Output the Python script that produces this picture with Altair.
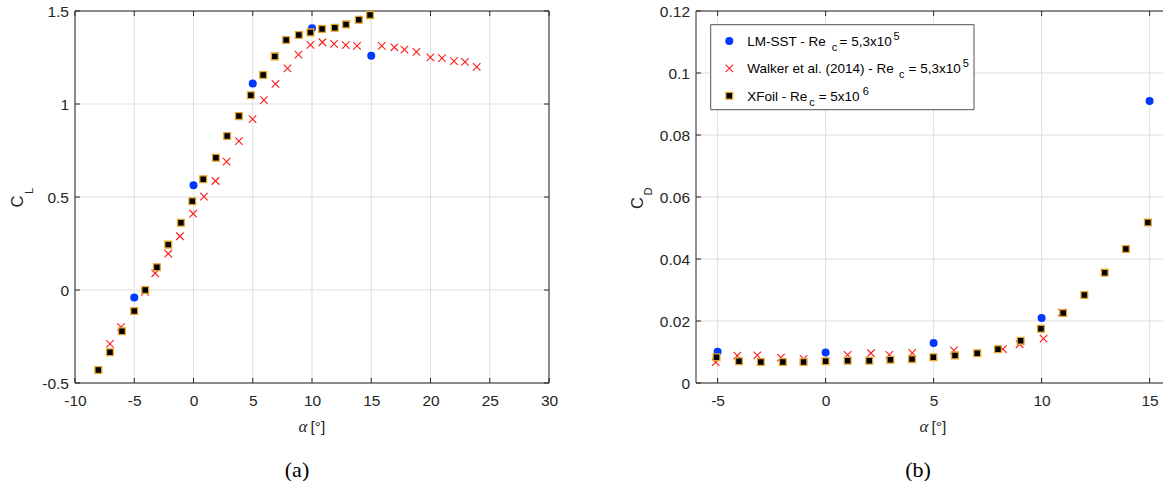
import altair as alt
import pandas as pd

SANS = "Liberation Sans"
SERIF = "Liberation Serif"
INK = "#262626"
GRID = "#dfdfdf"
BLUE = "#0038ff"
RED = "#ff1a1a"
GOLD = "#e8a628"
CROSS = "M-1,-1L1,1M-1,1L1,-1"

# ---------------- lift coefficient ----------------
cl_lm_alpha = [-5, 0, 5, 10, 15]
cl_lm = [-0.04, 0.563, 1.11, 1.407, 1.26]

cl_walker_alpha = [-7.05, -6.12, -4.1, -3.23, -2.13, -1.15, -0.03, 0.88, 1.86, 2.79,
                   3.83, 4.98, 5.94, 6.92, 7.93, 8.86, 9.87, 10.88, 11.86, 12.85,
                   13.8, 15.89, 16.95, 17.8, 18.81, 19.99, 20.97, 21.98, 22.91, 23.9]
cl_walker = [-0.29, -0.2, -0.01, 0.09, 0.195, 0.289, 0.41, 0.502, 0.586, 0.69,
             0.8, 0.919, 1.021, 1.108, 1.192, 1.265, 1.318, 1.332, 1.323, 1.317,
             1.313, 1.312, 1.305, 1.292, 1.28, 1.251, 1.247, 1.231, 1.226, 1.2]

cl_xfoil_alpha = [-8.03, -7.05, -6.04, -5.0, -4.07, -3.09, -2.13, -1.06, -0.1, 0.82,
                  1.89, 2.84, 3.83, 4.84, 5.88, 6.86, 7.82, 8.89, 9.87, 10.85,
                  11.92, 12.87, 13.95, 14.9]
cl_xfoil = [-0.43, -0.335, -0.222, -0.113, 0.0, 0.122, 0.244, 0.362, 0.477, 0.595,
            0.711, 0.828, 0.935, 1.047, 1.156, 1.256, 1.344, 1.371, 1.385, 1.403,
            1.41, 1.428, 1.453, 1.478]

cl_xticks = [-10, -5, 0, 5, 10, 15, 20, 25, 30]
cl_yticks = [-0.5, 0, 0.5, 1, 1.5]

# ---------------- drag coefficient ----------------
cd_lm_alpha = [-5, 0, 5, 10, 15]
cd_lm = [0.0101, 0.0098, 0.0129, 0.021, 0.091]

cd_walker_alpha = [-5.09, -4.09, -3.16, -2.07, -1.02, 1.02, 2.1, 2.95, 4.01, 5.94,
                   8.21, 8.98, 10.09, 10.94]
cd_walker = [0.0067, 0.0088, 0.0089, 0.0082, 0.0078, 0.0091, 0.0096, 0.0091, 0.0097,
             0.0105, 0.0109, 0.0125, 0.0143, 0.0228]

cd_xfoil_alpha = [-5.05, -4.01, -3, -1.98, -1.02, 0, 1.02, 2.02, 3, 4, 4.99, 5.99,
                  7.02, 7.98, 9.03, 9.97, 11, 11.98, 12.92, 13.9, 14.92]
cd_xfoil = [0.0083, 0.007, 0.0068, 0.0068, 0.0068, 0.007, 0.0072, 0.0072, 0.0075,
            0.0077, 0.0083, 0.0089, 0.0096, 0.0109, 0.0136, 0.0175, 0.0226, 0.0284,
            0.0356, 0.0432, 0.0518]

cd_xticks = [-5, 0, 5, 10, 15]
cd_yticks = [0, 0.02, 0.04, 0.06, 0.08, 0.1, 0.12]

# ---------------- legend labels ----------------
legend_names = ["LM-SST - Re", "Walker et al. (2014) - Re", "XFoil - Re"]
legend_subs = ["c", "c", "c"]
legend_vals = ["= 5,3x10", "= 5,3x10", "= 5x10"]
legend_exps = ["5", "5", "6"]


def px_text(rows):
    return pd.DataFrame(rows, columns=["t", "px", "py", "fs"])


def text_layer(df, **mark):
    return alt.Chart(df).mark_text(**mark).encode(
        x=alt.X("px:Q", scale=None, axis=None),
        y=alt.Y("py:Q", scale=None, axis=None),
        text="t:N",
        size=alt.Size("fs:Q", scale=None, legend=None),
    )


def panel(W, H, xdom, ydom, xticks, yticks, series, ylab, caption,
          ylab_pos, right_box=True, legend=False):
    xs = alt.Scale(domain=xdom, nice=False, zero=False)
    ys = alt.Scale(domain=ydom, nice=False, zero=False)
    common = dict(labelExpr="'' + datum.value", ticks=False, tickSize=0, domain=False,
                  grid=False, title=None, labelFont=SANS, labelFontSize=15.5,
                  labelColor=INK, labelFlush=False, labelOverlap=False)
    xa = alt.Axis(values=xticks, labelPadding=10.5, **common)
    ya = alt.Axis(values=yticks, labelPadding=6.5, **common)

    xt = pd.DataFrame({"t": xticks})
    yt = pd.DataFrame({"t": yticks})
    X = lambda f: alt.X(f, scale=xs, axis=xa)
    Y = lambda f: alt.Y(f, scale=ys, axis=ya)

    layers = [
        alt.Chart(xt).mark_rule(color=GRID, strokeWidth=1).encode(
            x=X("t:Q"), y=alt.value(0), y2=alt.value(H)),
        alt.Chart(yt).mark_rule(color=GRID, strokeWidth=1).encode(
            y=Y("t:Q"), x=alt.value(0), x2=alt.value(W)),
        # inward tick marks on every visible side of the box
        alt.Chart(xt).mark_rule(color=INK).encode(
            x=X("t:Q"), y=alt.value(H), y2=alt.value(H - 5)),
        alt.Chart(xt).mark_rule(color=INK).encode(
            x=X("t:Q"), y=alt.value(0), y2=alt.value(5)),
        alt.Chart(yt).mark_rule(color=INK).encode(
            y=Y("t:Q"), x=alt.value(0), x2=alt.value(5)),
    ]
    if right_box:
        layers.append(alt.Chart(yt).mark_rule(color=INK).encode(
            y=Y("t:Q"), x=alt.value(W - 5), x2=alt.value(W)))

    edges = [(0, W, 0, 0), (0, W, H, H), (0, 0, 0, H)]
    if right_box:
        edges.append((W, W, 0, H))
    box = pd.DataFrame(edges, columns=["x1", "x2", "y1", "y2"])
    layers.append(alt.Chart(box).mark_rule(color=INK, strokeWidth=1).encode(
        x=alt.X("x1:Q", scale=None, axis=None), x2="x2:Q",
        y=alt.Y("y1:Q", scale=None, axis=None), y2="y2:Q"))

    (lm_a, lm_v), (wk_a, wk_v), (xf_a, xf_v) = series
    layers += [
        alt.Chart(pd.DataFrame({"alpha": lm_a, "v": lm_v})).mark_circle(
            color=BLUE, size=64, opacity=1).encode(x=X("alpha:Q"), y=Y("v:Q")),
        alt.Chart(pd.DataFrame({"alpha": wk_a, "v": wk_v})).mark_point(
            shape=CROSS, filled=False, color=RED, strokeWidth=1.1, size=56,
            opacity=1).encode(x=X("alpha:Q"), y=Y("v:Q")),
        alt.Chart(pd.DataFrame({"alpha": xf_a, "v": xf_v})).mark_square(
            fill="black", stroke=GOLD, strokeWidth=1.3, size=46,
            opacity=1).encode(x=X("alpha:Q"), y=Y("v:Q")),
    ]

    if legend:
        one = pd.DataFrame({"k": [0]})
        layers.append(alt.Chart(one).mark_rect(
            fill="white", stroke=INK, strokeWidth=0.8).encode(
            x=alt.value(14.7), x2=alt.value(278), y=alt.value(13.7), y2=alt.value(98.7)))
        rows_y = [30, 57.3, 84.7]
        layers += [
            alt.Chart(one).mark_circle(color=BLUE, size=64, opacity=1).encode(
                x=alt.value(33.3), y=alt.value(rows_y[0])),
            alt.Chart(one).mark_point(shape=CROSS, filled=False, color=RED,
                                      strokeWidth=1.1, size=56, opacity=1).encode(
                x=alt.value(33.3), y=alt.value(rows_y[1])),
            alt.Chart(one).mark_square(fill="black", stroke=GOLD, strokeWidth=1.3,
                                       size=46, opacity=1).encode(
                x=alt.value(33.3), y=alt.value(rows_y[2])),
        ]
        base_y = [34.7, 62, 89.7]
        sub_x = [135.7, 203, 113.3]
        val_x = [143.5, 212.5, 122.7]
        exp_x = [197.5, 266.7, 166.7]
        rows = []
        for i in range(3):
            rows.append((legend_names[i], 51.3, base_y[i], 13.5))
            rows.append((legend_subs[i], sub_x[i], base_y[i] + 5, 11))
            rows.append((legend_vals[i], val_x[i], base_y[i], 13.5))
            rows.append((legend_exps[i], exp_x[i], base_y[i] - 6, 11))
        layers.append(text_layer(px_text(rows), align="left", baseline="alphabetic",
                                 font=SANS, color="black"))

    # y label: letter plus subscript, rotated
    (cx, cy), (sx, sy) = ylab_pos
    layers.append(text_layer(px_text([(ylab[0], cx, cy, 16.5), (ylab[1], sx, sy, 11)]),
                             angle=270, align="center", baseline="alphabetic",
                             font=SANS, color=INK))
    # x label: alpha [deg]
    layers.append(text_layer(px_text([("α", 228, H + 49, 17)]), align="center",
                             baseline="alphabetic", font=SERIF, fontStyle="italic",
                             color=INK))
    layers.append(text_layer(px_text([("[°]", 235.5, H + 49, 15.5)]), align="left",
                             baseline="alphabetic", font=SANS, color=INK))
    # sub-figure caption
    layers.append(text_layer(px_text([(caption, 222, 466, 22)]), align="center",
                             baseline="alphabetic", font=SERIF, color="black"))

    return alt.layer(*layers).properties(width=W, height=H)


left = panel(474, 372, [-10, 30], [-0.5, 1.5], cl_xticks, cl_yticks,
             [(cl_lm_alpha, cl_lm), (cl_walker_alpha, cl_walker),
              (cl_xfoil_alpha, cl_xfoil)],
             ("C", "L"), "(a)", ((-51.7, 190.5), (-42, 180)))

right = panel(467, 372, [-6, 15.62], [0, 0.12], cd_xticks, cd_yticks,
              [(cd_lm_alpha, cd_lm), (cd_walker_alpha, cd_walker),
               (cd_xfoil_alpha, cd_xfoil)],
              ("C", "D"), "(b)", ((-53.3, 192), (-44.3, 180.5)),
              right_box=False, legend=True)

chart = alt.hconcat(left, right, spacing=147, bounds="flush").properties(
    padding={"left": 10, "top": 4, "right": 0, "bottom": 0},
    background="white",
).configure_view(stroke=None)

chart.save("out.html", embed_options={"renderer": "svg", "actions": False})
